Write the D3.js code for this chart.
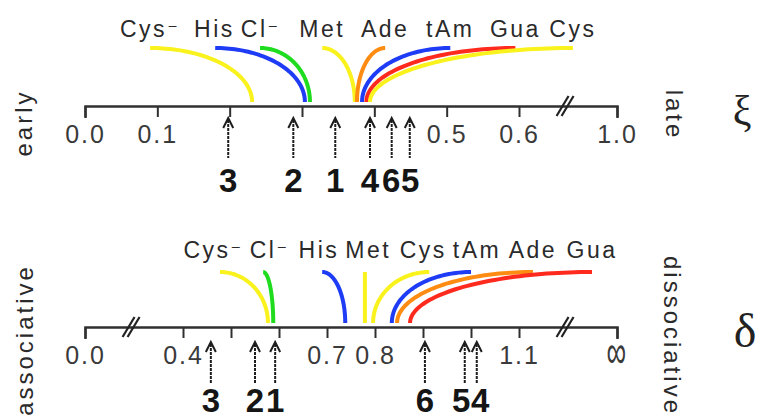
<!DOCTYPE html>
<html>
<head>
<meta charset="utf-8">
<script src="https://cdn.jsdelivr.net/npm/d3@7/dist/d3.min.js"></script>
<style>
  body { margin: 0; background: #fff; }
  svg { display: block; }
  text { font-family: "Liberation Sans", Arial, "DejaVu Sans", sans-serif; }
</style>
</head>
<body>
<div id="chart"></div>
<script>
// ---- data: upper scale (early / late) ----
const omegaTicks = [0, 0.1, 0.2, 0.3, 0.4, 0.5, 0.6, 1.0];
const omegaTickLabels = ["0.0", "0.1", "", "", "", "0.5", "0.6", "1.0"];
const omegaLigands = ["Cys⁻", "His", "Cl⁻", "Met", "Ade", "tAm", "Gua", "Cys"];
const omegaAxisEnd = [0.231, 0.304, 0.311, 0.373, 0.376, 0.383, 0.389, 0.394];
const omegaFarEnd = [0.090, 0.180, 0.242, 0.328, 0.415, 0.505, 0.595, 0.820];
const omegaComplexes = ["3", "2", "1", "4", "6", "5"];
const omegaComplexValues = [0.198, 0.288, 0.346, 0.394, 0.424, 0.449];

// ---- data: lower scale (associative / dissociative) ----
const deltaTicks = [0, 0.4, 0.5, 0.6, 0.7, 0.8, 0.9, 1.0, 1.1, 1.5];
const deltaTickLabels = ["0.0", "0.4", "", "", "0.7", "0.8", "", "", "1.1", "∞"];
const deltaLigands = ["Cys⁻", "Cl⁻", "His", "Met", "Cys", "tAm", "Ade", "Gua"];
const deltaAxisEnd = [0.577, 0.588, 0.738, 0.779, 0.796, 0.835, 0.846, 0.873];
const deltaFarEnd = [0.477, 0.567, 0.690, 0.779, 0.913, 1.000, 1.157, 1.398];
const deltaComplexes = ["3", "2", "1", "6", "5", "4"];
const deltaComplexValues = [0.458, 0.550, 0.592, 0.904, 0.987, 1.012];

const width = 758, height = 418;
const ink = "#2a2a2a";

// ligand colours
const ligandColor = d3.scaleOrdinal()
    .domain(["Cys⁻", "His", "Cl⁻", "Met", "Ade", "tAm", "Gua", "Cys"])
    .range(["#f9f21c", "#1e3cf5", "#1fdc1f", "#f9f21c", "#ff8c12", "#1e3cf5", "#ff2a1e", "#f9f21c"]);

const svg = d3.select("#chart").append("svg")
    .attr("width", width)
    .attr("height", height);

const panels = [
    {
        x: d3.scaleLinear().domain([0, 0.6, 1.0]).range([85, 519, 617]),
        axisY: 106, ticks: omegaTicks, tickLabels: omegaTickLabels,
        ligands: omegaLigands, axisEnd: omegaAxisEnd, farEnd: omegaFarEnd,
        complexes: omegaComplexes, complexValues: omegaComplexValues,
        breaks: [[0.6, 1.0]], curveTop: 58, arrowTip: 12, arrowTail: 52, digitY: 86
    },
    {
        x: d3.scaleLinear().domain([0, 0.4, 1.1, 1.5]).range([85, 183, 519, 617]),
        axisY: 327, ticks: deltaTicks, tickLabels: deltaTickLabels,
        ligands: deltaLigands, axisEnd: deltaAxisEnd, farEnd: deltaFarEnd,
        complexes: deltaComplexes, complexValues: deltaComplexValues,
        breaks: [[0, 0.4], [1.1, 1.5]], curveTop: 55, arrowTip: 15, arrowTail: 57, digitY: 85
    }
];

// push overlapping labels apart along x
function spread(items, gap) {
    items.sort((a, b) => a.x - b.x);
    for (let k = 0; k < 20; k++) {
        for (let i = 1; i < items.length; i++) {
            const a = items[i - 1], b = items[i];
            const overlap = (a.x + a.w / 2 + gap) - (b.x - b.w / 2);
            if (overlap > 0) { a.x -= overlap / 2; b.x += overlap / 2; }
        }
    }
    return items;
}

panels.forEach(p => {
    const g = svg.append("g").attr("transform", `translate(0,${p.axisY})`);

    // axis
    const axis = d3.axisBottom(p.x)
        .tickValues(p.ticks)
        .tickFormat((d, i) => p.tickLabels[i])
        .tickSize(11)
        .tickSizeOuter(12);
    const ax = g.append("g").call(axis);
    ax.select(".domain").attr("stroke", "#303030").attr("stroke-width", 2.5).attr("fill", "none");
    ax.selectAll(".tick line").attr("stroke", "#303030").attr("stroke-width", 2);
    ax.selectAll(".tick text")
        .attr("y", 37).attr("dy", null)
        .attr("fill", "#3a3a3a")
        .style("font-size", "25px")
        .style("letter-spacing", "2px")
        .style("font-family", "'Liberation Sans', Arial, sans-serif");
    ax.selectAll(".tick text").filter(d => d === 1.5)
        .attr("y", 0)
        .attr("transform", "translate(0,41) scale(1.1,1.9)");

    // axis breaks
    p.breaks.forEach(([a, b]) => {
        const cx = p.x(a) + (p.x(b) - p.x(a)) * 0.47;
        [-2.5, 2.5].forEach(dx => {
            g.append("line")
                .attr("x1", cx + dx - 6).attr("y1", 10)
                .attr("x2", cx + dx + 6).attr("y2", -10)
                .attr("stroke", "#222").attr("stroke-width", 2.2);
        });
    });

    // ligand curves: quarter ellipse from far end (flat) down to the axis end (vertical)
    const line = d3.line();
    const yTop = -p.curveTop, yBot = -4;
    p.ligands.forEach((name, i) => {
        const xa = p.x(p.axisEnd[i]), xf = p.x(p.farEnd[i]);
        const pts = d3.range(0, 1.0001, 0.02).map(t => {
            const a = t * Math.PI / 2;
            return [xf + (xa - xf) * Math.sin(a), yBot - (yBot - yTop) * Math.cos(a)];
        });
        g.append("path")
            .attr("d", line(pts))
            .attr("fill", "none")
            .attr("stroke", ligandColor(name))
            .attr("stroke-width", 4)
            .attr("stroke-linecap", "butt");
    });

    // ligand labels above the far end of each curve
    const labels = svg.append("g")
        .attr("fill", ink)
        .style("font-size", "23px")
        .style("letter-spacing", "2.5px");
    const items = p.ligands.map((name, i) => {
        const base = name.replace("⁻", "");
        const t = labels.append("text")
            .attr("y", p.axisY - 69)
            .attr("text-anchor", "middle");
        t.append("tspan").text(base);
        if (name.includes("⁻")) {
            t.append("tspan").text("⁻")
                .style("font-family", "'DejaVu Sans', sans-serif")
                .style("font-size", "20px");
        }
        return { node: t, x: p.x(p.farEnd[i]), w: t.node().getComputedTextLength() };
    });
    spread(items, 6).forEach(d => d.node.attr("x", d.x));

    // complex arrows
    const digits = p.complexes.map((c, i) => ({ c, x0: p.x(p.complexValues[i]), x: p.x(p.complexValues[i]), w: 19 }));
    digits.forEach(d => {
        const a = g.append("g").attr("transform", `translate(${d.x0},0)`);
        a.append("line")
            .attr("y1", p.arrowTip + 2).attr("y2", p.arrowTail)
            .attr("stroke", "#1e1e1e").attr("stroke-width", 2)
            .attr("stroke-dasharray", "3 1");
        a.append("path")
            .attr("d", `M-5,${p.arrowTip + 10}L0,${p.arrowTip}L5,${p.arrowTip + 10}`)
            .attr("fill", "none").attr("stroke", "#1e1e1e").attr("stroke-width", 2);
    });
    spread(digits, 0).forEach(d => {
        g.append("text")
            .attr("x", d.x).attr("y", p.digitY)
            .attr("text-anchor", "middle")
            .attr("fill", "#151515")
            .style("font-size", "33px")
            .style("font-weight", "bold")
            .text(d.c);
    });
});

// side labels
const side = [
    { text: "early", x: 32, y: 123, r: -90 },
    { text: "late", x: 666, y: 115, r: 90 },
    { text: "associative", x: 33, y: 340, r: -90 },
    { text: "dissociative", x: 664, y: 336, r: 90 }
];
svg.selectAll(".side").data(side).join("text")
    .attr("class", "side")
    .attr("transform", d => `translate(${d.x},${d.y}) rotate(${d.r})`)
    .attr("text-anchor", "middle")
    .attr("fill", ink)
    .style("font-size", "24px")
    .style("letter-spacing", "3px")
    .text(d => d.text);

// parameter symbols
svg.append("text").attr("x", 742).attr("y", 125)
    .attr("text-anchor", "middle")
    .attr("fill", "#222")
    .style("font-family", "'Liberation Serif', 'DejaVu Serif', serif")
    .style("font-size", "42px")
    .text("ξ");
svg.append("text").attr("x", 745).attr("y", 347)
    .attr("text-anchor", "middle")
    .attr("fill", "#222")
    .style("font-family", "'Liberation Serif', 'DejaVu Serif', serif")
    .style("font-size", "48px")
    .text("δ");
</script>
</body>
</html>
